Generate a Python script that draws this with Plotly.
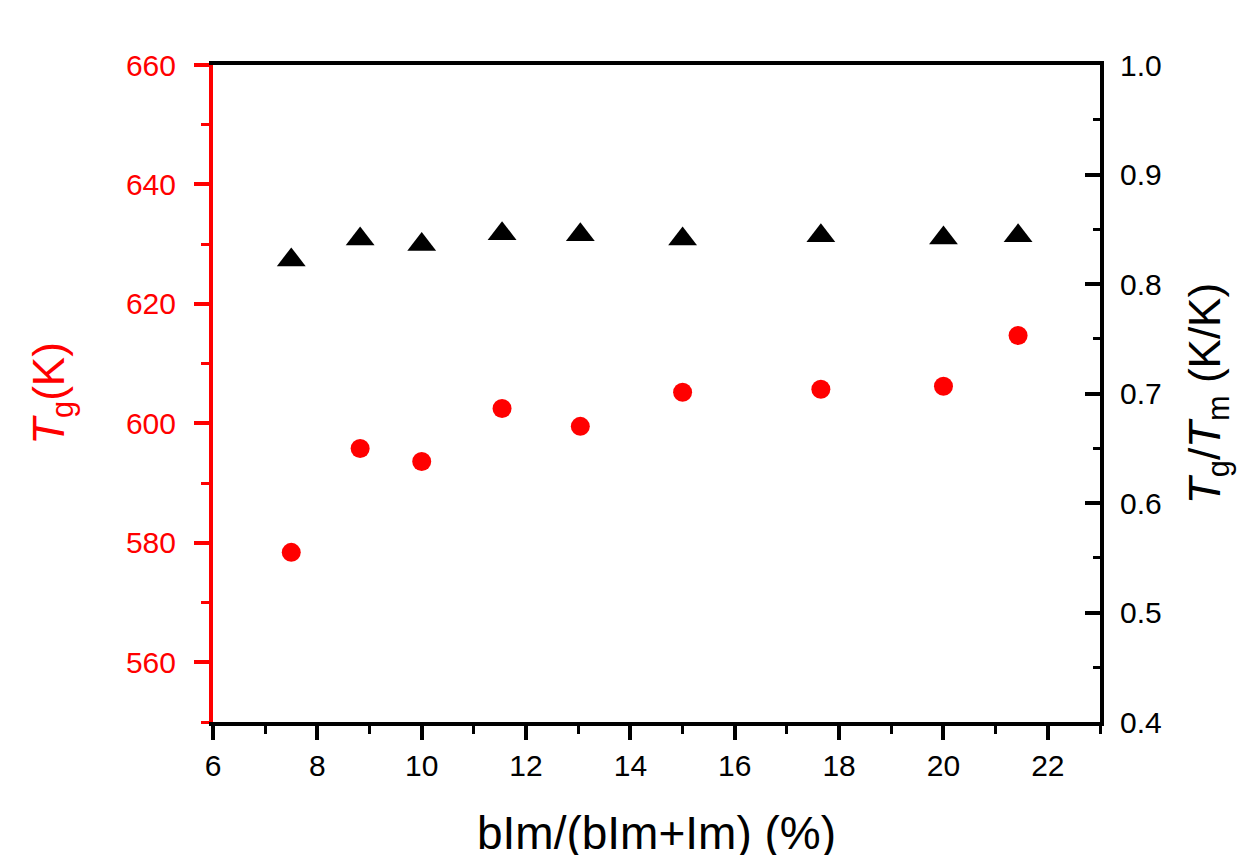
import plotly.graph_objects as go

# Data
blm_frac = [7.5, 8.82, 10.0, 11.54, 13.04, 15.0, 17.65, 20.0, 21.43]
tg_k = [578.4, 595.8, 593.6, 602.5, 599.5, 605.2, 605.7, 606.2, 614.7]
tg_tm = [0.822, 0.841, 0.836, 0.846, 0.845, 0.841, 0.844, 0.842, 0.844]

FONT = "Arial, 'Liberation Sans', Helvetica, sans-serif"
RED = "#ff0000"

fig = go.Figure()
fig.add_trace(go.Scatter(
    x=blm_frac, y=tg_k, mode="markers",
    marker=dict(symbol="circle", size=19, color=RED, line=dict(width=0)),
    yaxis="y", showlegend=False,
))
fig.add_trace(go.Scatter(
    x=blm_frac, y=tg_tm, mode="markers",
    marker=dict(symbol="triangle-up", size=25, color="black", line=dict(width=0)),
    yaxis="y2", showlegend=False,
))

fig.update_layout(
    width=1254, height=855,
    margin=dict(l=205, r=162, t=57, b=141, autoexpand=False),
    paper_bgcolor="white", plot_bgcolor="white",
    font=dict(family=FONT, color="black"),
    xaxis=dict(
        range=[6, 23], dtick=2, tick0=6, automargin=False,
        showgrid=False, zeroline=False,
        showline=True, linecolor="black", linewidth=4, mirror=True,
        ticks="outside", ticklen=14, tickwidth=4, tickcolor="black",
        minor=dict(ticks="outside", dtick=1, ticklen=8, tickwidth=3, tickcolor="black", showgrid=False),
        tickfont=dict(size=30, color="black", family=FONT),
        ticklabelstandoff=0,
        title=dict(text="bIm/(bIm+Im) (%)", font=dict(size=46, color="black", family=FONT), standoff=37),
    ),
    yaxis=dict(
        range=[550, 660], dtick=20, tick0=560, automargin=False,
        showgrid=False, zeroline=False,
        showline=True, linecolor=RED, linewidth=4,
        ticks="outside", ticklen=15, tickwidth=4, tickcolor=RED,
        minor=dict(ticks="outside", dtick=10, ticklen=8, tickwidth=3, tickcolor=RED, showgrid=False),
        tickfont=dict(size=30, color=RED, family=FONT),
        ticklabelstandoff=12,
        title=dict(text="<i>T</i><sub>g</sub>(K)", font=dict(size=44, color=RED, family=FONT), standoff=49),
    ),
    yaxis2=dict(
        overlaying="y", side="right", anchor="x", automargin=False,
        range=[0.4, 1.0], dtick=0.1, tick0=0.4, tickformat=".1f",
        showgrid=False, zeroline=False,
        showline=True, linecolor="black", linewidth=4,
        ticks="inside", ticklen=15, tickwidth=4, tickcolor="black",
        minor=dict(ticks="inside", dtick=0.05, ticklen=7, tickwidth=3, tickcolor="black", showgrid=False),
        tickfont=dict(size=30, color="black", family=FONT),
        ticklabelstandoff=10,
        title=dict(text="<i>T</i><sub>g</sub>/<i>T</i><sub>m</sub> (K/K)", font=dict(size=44, color="black", family=FONT), standoff=29),
    ),
)

fig.write_html("out.html")
